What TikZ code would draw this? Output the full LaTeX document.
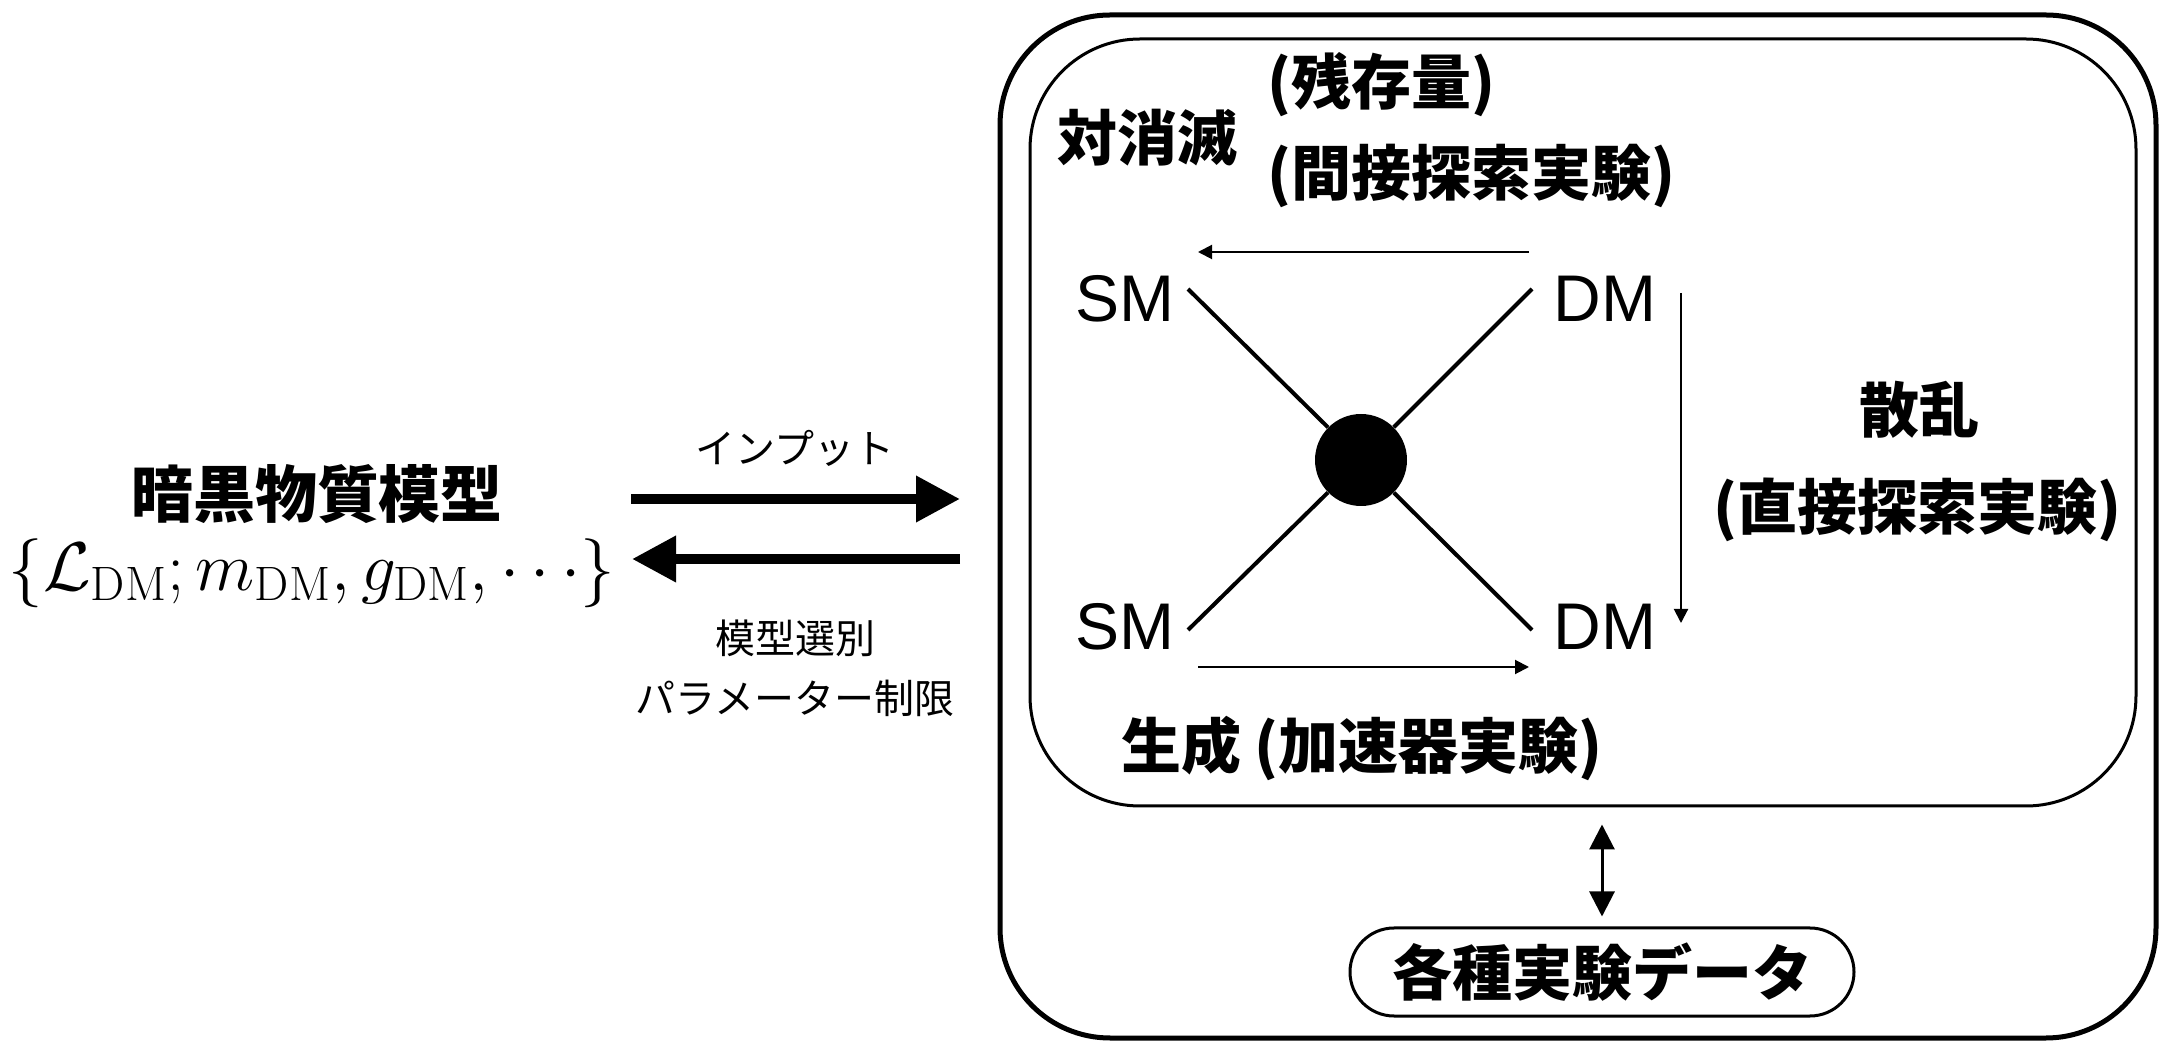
\RequirePackage{fix-cm}
\documentclass[tikz,border=0pt]{standalone}
\usepackage{fontspec}
\usetikzlibrary{arrows.meta}
\newfontfamily\jp{Noto Sans CJK JP}
\newfontfamily\lat{Liberation Sans}
\begin{document}
\begin{tikzpicture}[x=0.5pt,y=-0.5pt,
  jb/.style={font=\jp\bfseries\fontsize{30}{36}\selectfont, inner sep=0pt},
  js/.style={font=\jp\fontsize{20}{24}\selectfont, inner sep=0pt},
  lab/.style={font=\lat\fontsize{33}{40}\selectfont, inner sep=0pt},
  bigarrow/.style={-{Triangle[length=22pt,width=22pt]}, line width=5pt},
  tarrow/.style={-{Triangle[length=7pt,width=7pt]}, line width=1pt},
  dblarrow/.style={{Triangle[length=12.5pt,width=12.5pt]}-{Triangle[length=12.5pt,width=12.5pt]}, line width=1.5pt},
  leg/.style={line width=2pt},
  box/.style={draw, inner sep=0pt, rounded corners=55pt}]
\useasboundingbox (0,0) rectangle (2160,1042);

% left side
\node[jb, font=\jp\bfseries\fontsize{31}{36}\selectfont] (title) at (317,494) {暗黒物質模型};
\node[inner sep=0pt, font=\fontsize{34.5}{40}\selectfont] (formula) at (312,573)
  {$\{\mathcal{L}_{\rm DM};m_{\rm DM},g_{\rm DM},\cdots\}$};

\coordinate (a1s) at (631,499); \coordinate (a1e) at (960,499);
\coordinate (a2s) at (960,559); \coordinate (a2e) at (632,559);
\draw[bigarrow] (a1s) -- (a1e);
\draw[bigarrow] (a2s) -- (a2e);
\node[js] (input) at (795,448) {インプット};
\node[js] (sel) at (795,638) {模型選別};
\node[js] (param) at (795,698) {パラメーター制限};

% boxes
\node[box, line width=2.5pt, minimum width=578pt, minimum height=511.5pt] (outer) at (1578,526.5) {};
\node[box, line width=1.5pt, minimum width=553pt, minimum height=383.5pt] (inner) at (1583,422.5) {};
\node[draw, line width=1.5pt, rounded corners=22pt, minimum width=252pt, minimum height=44pt,
      jb, inner sep=0pt] (data) at (1602,972) {各種実験データ};
\draw[dblarrow] ([yshift=-8.5pt]inner.south -| data.north) -- ([yshift=5pt]data.north);

% diagram
\node[lab] (sm1) at (1125,299) {SM};
\node[lab] (dm1) at (1605,299) {DM};
\node[lab] (sm2) at (1125,627) {SM};
\node[lab] (dm2) at (1605,627) {DM};
\node[circle, fill, minimum size=46pt, inner sep=0pt] (blob) at (1361,460) {};
\coordinate (c1) at (1188,289); \coordinate (c2) at (1532,289);
\coordinate (c3) at (1188,630); \coordinate (c4) at (1532,630);
\draw[leg] (c1) -- (blob);
\draw[leg] (c2) -- (blob);
\draw[leg] (c3) -- (blob);
\draw[leg] (c4) -- (blob);

\coordinate (t1) at (1529,252); \coordinate (t2) at (1198,252);
\coordinate (r1) at (1681,293); \coordinate (r2) at (1681,623);
\coordinate (b1) at (1198,667); \coordinate (b2) at (1529,667);
\draw[tarrow] (t1) -- (t2);
\draw[tarrow] (r1) -- (r2);
\draw[tarrow] (b1) -- (b2);

\node[jb] (ann) at (1147,138) {対消滅};
\node[jb, anchor=west] (relic) at (1267,85) {(残存量)};
\node[jb, anchor=west] (indir) at (1267,176) {(間接探索実験)};
\node[jb] (scat) at (1919,410) {散乱};
\node[jb] (dir) at (1917,510) {(直接探索実験)};
\node[jb] (prod) at (1362,748) {生成 (加速器実験)};
\end{tikzpicture}
\end{document}
